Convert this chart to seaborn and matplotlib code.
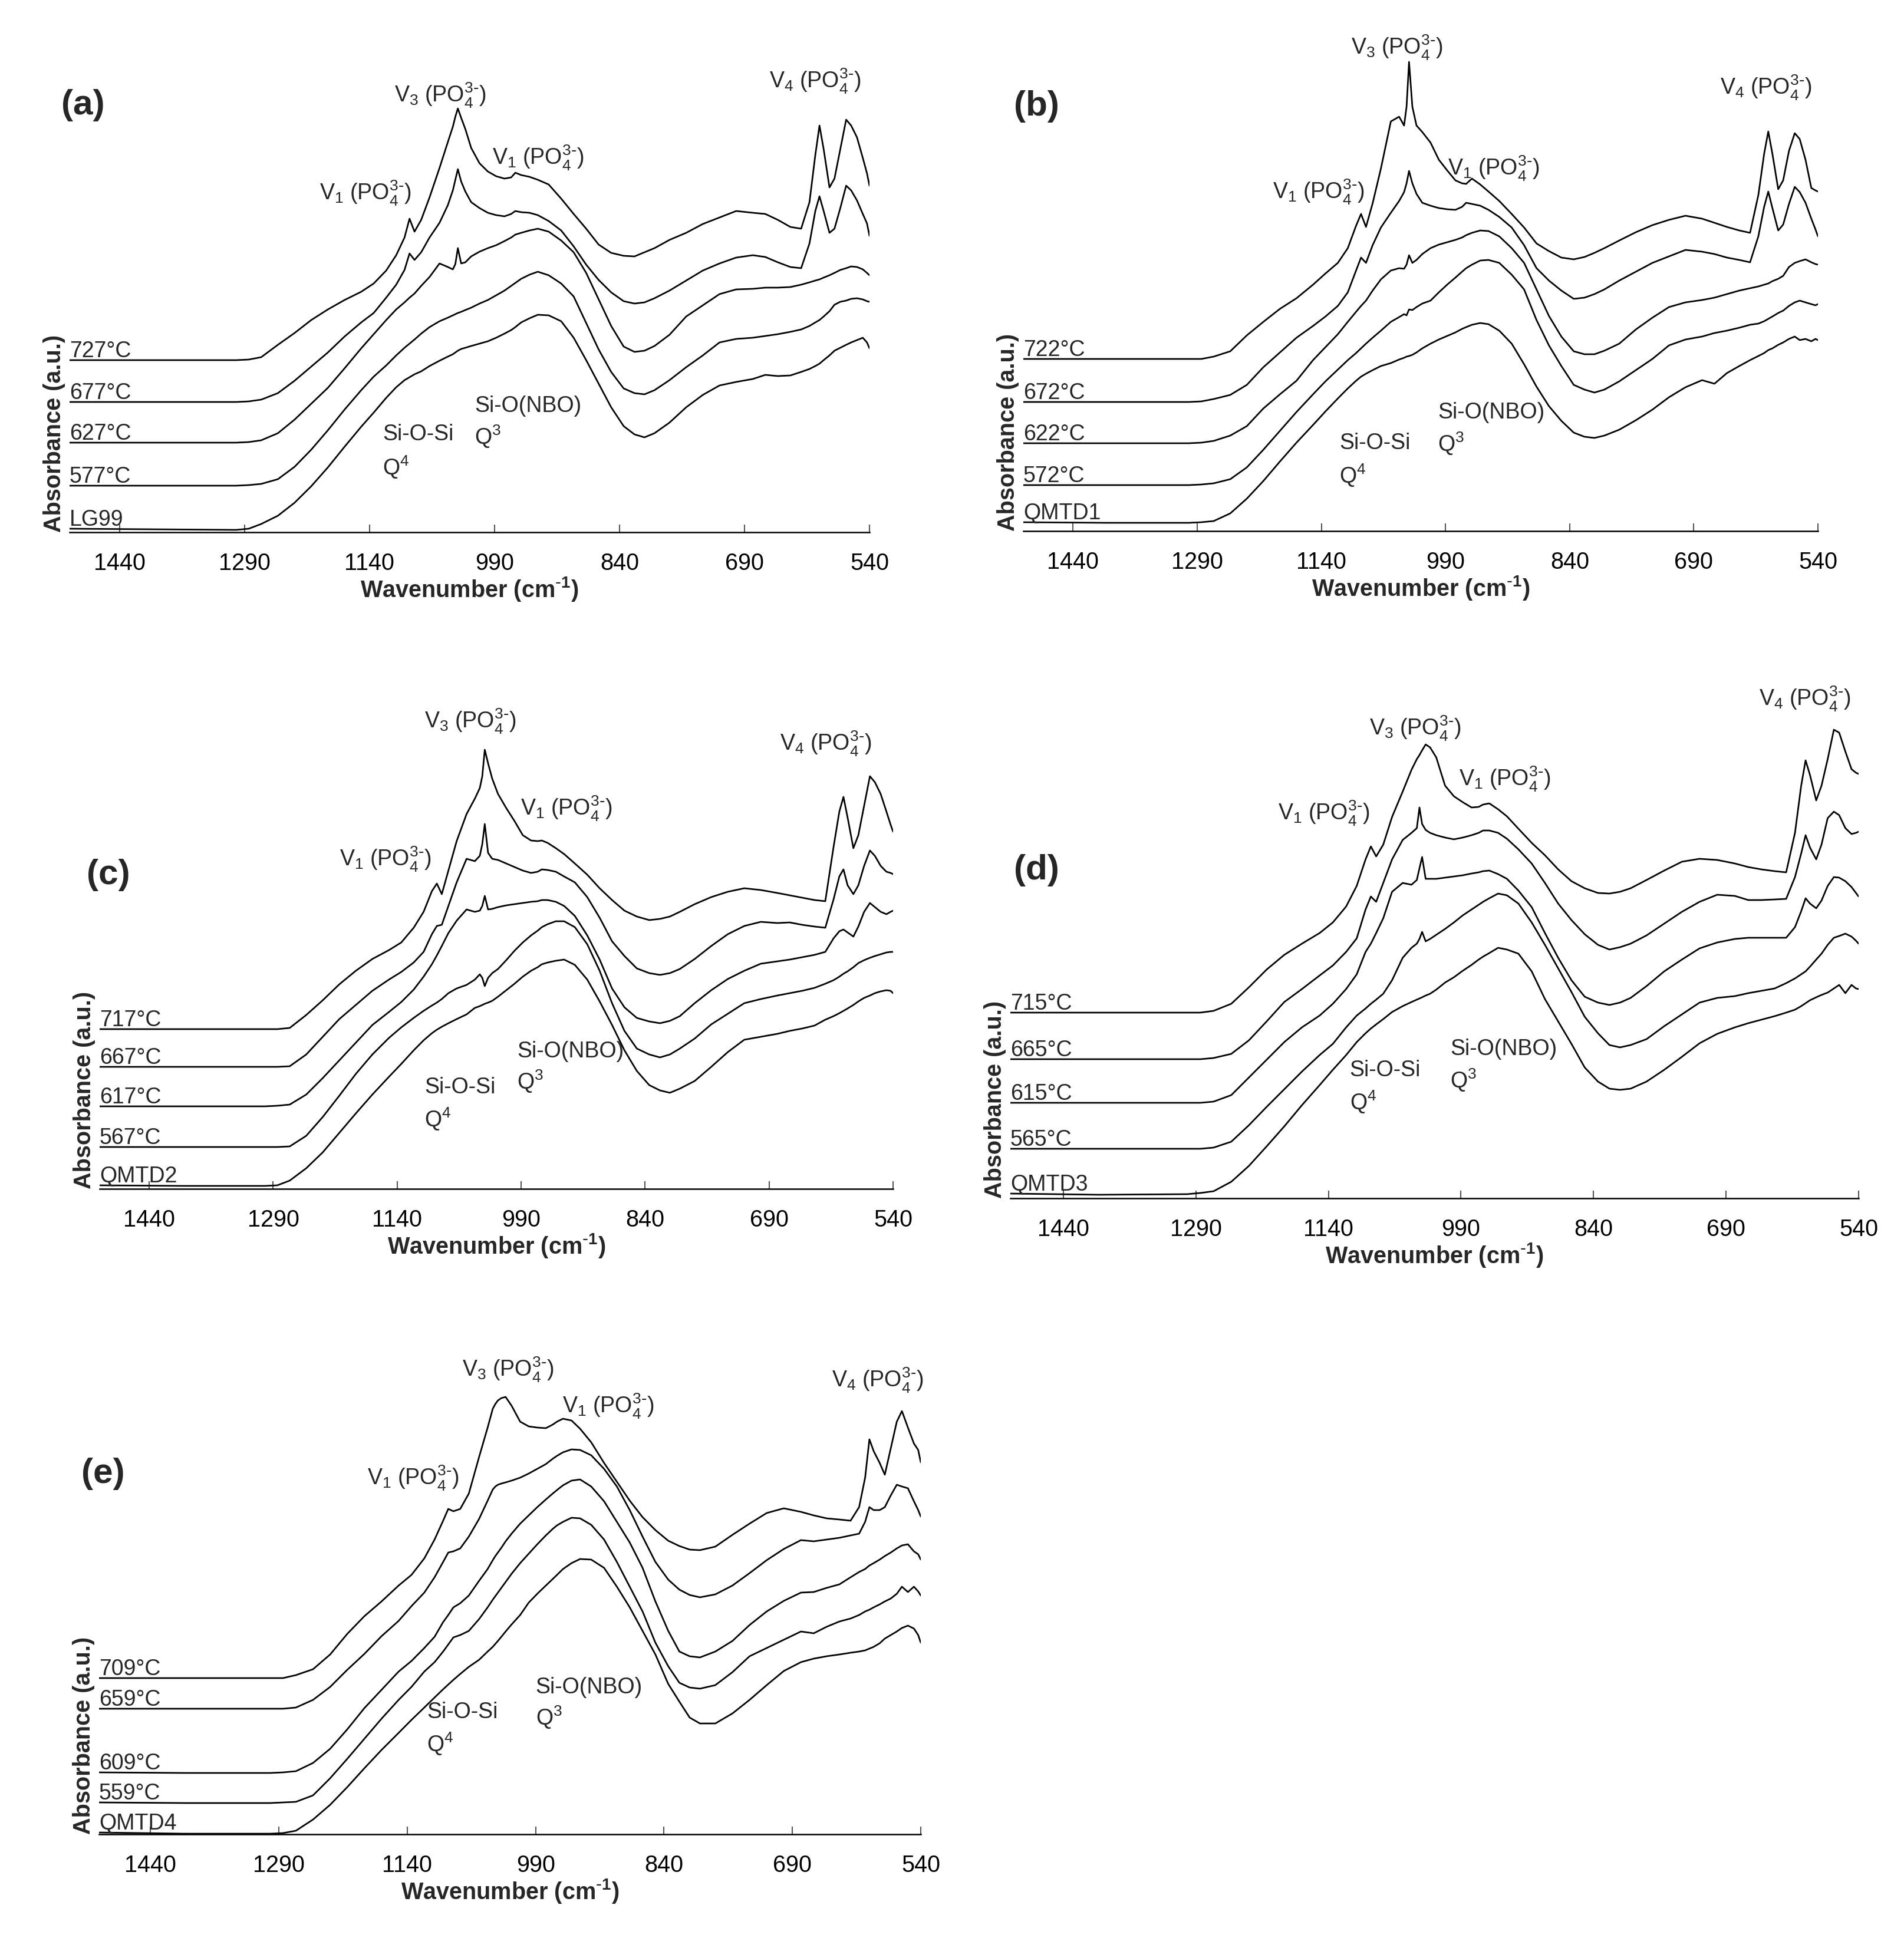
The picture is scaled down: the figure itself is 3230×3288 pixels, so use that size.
import matplotlib
matplotlib.use("Agg")
import matplotlib.pyplot as plt
import numpy as np
import pandas as pd
import seaborn as sns

# ---------------- data (absorbance, arbitrary units, offset spectra) ----------------
wavenumber = [1500, 1400, 1300, 1285, 1270, 1250, 1230, 1210, 1190, 1170,
              1150, 1135, 1120, 1108, 1098, 1092, 1086, 1078, 1068, 1056,
              1046, 1040, 1037, 1034, 1030, 1025, 1018, 1008, 998, 988,
              978, 970, 965, 958, 948, 938, 925, 910, 895, 880,
              865, 850, 835, 822, 810, 798, 780, 760, 740, 720,
              700, 680, 665, 650, 635, 622, 612, 605, 600, 595,
              588, 582, 575, 568, 562, 555, 548, 543, 540]
ticks = [1440, 1290, 1140, 990, 840, 690, 540]

# panel (a)
a_samples = ["727°C", "677°C", "627°C", "577°C", "LG99"]
a_727 = [292, 292, 292, 293, 297, 318, 338, 360, 378, 394,
         408, 422, 444, 470, 500, 532, 510, 530, 568, 618,
         662, 688, 705, 719, 703, 684, 652, 626, 612, 604,
         600, 602, 610, 606, 603, 598, 590, 566, 540, 515,
         488, 474, 469, 468, 475, 482, 496, 508, 523, 534,
         545, 542, 540, 530, 518, 515, 560, 640, 690, 650,
         585, 600, 650, 700, 690, 670, 635, 609, 588]
a_677 = [221, 221, 221, 222, 225, 236, 257, 281, 305, 332,
         356, 372, 398, 420, 445, 473, 462, 475, 500, 525,
         555, 580, 598, 616, 595, 578, 560, 550, 542, 538,
         536, 540, 545, 543, 542, 538, 528, 512, 485, 454,
         428, 407, 392, 388, 390, 397, 410, 427, 444, 456,
         466, 470, 467, 458, 450, 448, 490, 545, 570, 545,
         508, 515, 550, 588, 580, 563, 540, 524, 503]
a_627 = [152, 152, 152, 153, 156, 168, 191, 218, 245, 278,
         312, 336, 360, 378, 390, 398, 405, 418, 433, 456,
         450, 446, 455, 482, 456, 458, 468, 476, 482, 487,
         494, 500, 505, 508, 512, 515, 510, 495, 475, 440,
         395, 350, 315, 306, 308, 316, 335, 366, 385, 404,
         412, 413, 415, 415, 416, 420, 424, 427, 429, 432,
         436, 440, 445, 448, 451, 450, 446, 440, 436]
a_577 = [79, 79, 79, 80, 82, 90, 111, 140, 173, 208,
         241, 264, 283, 300, 313, 320, 327, 337, 348, 358,
         364, 368, 370, 372, 374, 377, 381, 388, 394, 402,
         410, 418, 423, 430, 437, 442, 436, 422, 400, 355,
         310, 272, 244, 236, 234, 241, 258, 280, 300, 322,
         328, 330, 333, 336, 340, 344, 350, 356, 360, 366,
         375, 386, 391, 393, 396, 397, 395, 392, 391]
a_lg99 = [6, 5, 4, 6, 14, 28, 50, 78, 110, 145,
          179, 203, 228, 246, 258, 263, 268, 273, 282, 291,
          298, 302, 305, 308, 311, 313, 316, 320, 324, 330,
          337, 343, 348, 356, 363, 369, 368, 358, 330, 292,
          252, 212, 180, 166, 161, 168, 186, 212, 233, 249,
          255, 260, 267, 265, 266, 272, 277, 282, 286, 292,
          300, 308, 313, 318, 322, 326, 330, 322, 312]

# panel (b)
b_samples = ["722°C", "672°C", "622°C", "572°C", "QMTD1"]
b_722 = [292, 292, 292, 292, 296, 305, 332, 355, 377, 395,
         418, 437, 455, 480, 518, 538, 516, 556, 615, 695,
         703, 688, 720, 796, 720, 688, 677, 659, 630, 612,
         595, 590, 589, 598, 588, 576, 560, 538, 515, 488,
         475, 464, 461, 465, 472, 480, 493, 507, 519, 528,
         535, 530, 523, 516, 510, 506, 570, 640, 678, 640,
         580, 595, 645, 675, 665, 630, 582, 578, 576]
b_672 = [219, 219, 219, 220, 224, 231, 248, 278, 303, 328,
         348, 364, 382, 405, 442, 464, 455, 485, 515, 540,
         560, 575, 590, 611, 590, 572, 557, 552, 548, 546,
         545, 550, 557, 555, 552, 545, 533, 515, 485, 446,
         425, 408, 394, 396, 402, 410, 425, 440, 455, 466,
         477, 474, 470, 464, 460, 456, 500, 550, 576, 548,
         510, 520, 555, 584, 575, 557, 530, 512, 500]
b_622 = [149, 149, 149, 150, 153, 162, 178, 208, 232, 255,
         290, 312, 334, 355, 372, 382, 391, 408, 427, 442,
         446, 445, 452, 468, 455, 460, 470, 480, 486, 490,
         494, 498, 502, 506, 510, 509, 500, 480, 455, 410,
         365, 330, 305, 300, 300, 306, 318, 342, 362, 380,
         388, 392, 396, 402, 408, 412, 415, 418, 420, 424,
         428, 433, 448, 455, 458, 461, 456, 453, 452]
b_572 = [78, 78, 78, 79, 81, 88, 108, 138, 170, 202,
         232, 254, 274, 290, 302, 310, 318, 328, 340, 355,
         363, 368, 366, 376, 375, 380, 386, 391, 405, 418,
         430, 440, 446, 452, 459, 460, 455, 435, 410, 358,
         315, 280, 248, 240, 235, 240, 254, 273, 292, 315,
         325, 330, 336, 340, 345, 350, 352, 356, 360, 364,
         370, 374, 382, 388, 391, 388, 385, 383, 385]
b_qmtd1 = [15, 14, 14, 15, 17, 30, 55, 85, 118, 150,
           180, 203, 225, 242, 255, 262, 267, 273, 280, 285,
           291, 294, 296, 297, 299, 303, 310, 318, 325, 331,
           337, 343, 346, 350, 353, 351, 340, 318, 283, 245,
           212, 187, 167, 160, 158, 162, 172, 188, 206, 227,
           244, 256, 250, 268, 280, 290, 297, 302, 307, 310,
           316, 320, 326, 330, 324, 326, 322, 326, 324]

# panel (c)
c_samples = ["717°C", "667°C", "617°C", "567°C", "QMTD2"]
c_717 = [271, 271, 271, 271, 273, 295, 320, 347, 370, 390,
         405, 418, 443, 470, 505, 518, 500, 540, 590, 636,
         662, 680, 700, 745, 722, 696, 670, 646, 624, 600,
         591, 590, 591, 587, 578, 568, 552, 533, 510, 490,
         472, 462, 456, 458, 462, 470, 483, 495, 504, 510,
         507, 502, 498, 494, 490, 488, 580, 640, 665, 630,
         578, 600, 650, 700, 690, 670, 640, 618, 606]
c_667 = [207, 207, 207, 207, 208, 228, 258, 288, 312, 336,
         355, 368, 384, 402, 432, 446, 448, 480, 520, 560,
         556, 565, 585, 619, 570, 560, 558, 552, 546, 540,
         536, 538, 542, 541, 538, 530, 520, 495, 460, 420,
         395, 374, 366, 363, 366, 373, 390, 412, 432, 446,
         453, 451, 452, 448, 445, 443, 491, 530, 542, 515,
         500, 515, 548, 574, 565, 548, 538, 536, 534]
c_617 = [140, 140, 140, 141, 143, 160, 188, 218, 248, 278,
         300, 317, 338, 360, 381, 396, 412, 434, 455, 474,
         470, 472, 480, 497, 474, 475, 478, 481, 483, 485,
         487, 488, 490, 490, 487, 480, 463, 430, 389, 340,
         308, 290, 284, 281, 285, 293, 315, 337, 356, 370,
         382, 386, 389, 393, 397, 402, 425, 437, 440, 435,
         428, 445, 470, 485, 478, 470, 466, 470, 472]
c_567 = [71, 71, 71, 71, 72, 90, 122, 158, 195, 228,
         256, 274, 290, 302, 311, 316, 322, 332, 340, 346,
         355, 364, 358, 344, 358, 366, 373, 388, 404, 418,
         430, 438, 444, 449, 454, 454, 444, 415, 370, 315,
         268, 238, 228, 223, 228, 238, 255, 279, 297, 315,
         322, 328, 332, 336, 341, 348, 354, 360, 365, 369,
         376, 383, 388, 392, 395, 398, 401, 402, 402]
c_qmtd2 = [6, 5, 5, 6, 14, 35, 62, 95, 128, 160,
           190, 212, 235, 252, 264, 270, 275, 281, 288, 296,
           307, 310, 312, 314, 316, 319, 326, 337, 348, 360,
           370, 376, 381, 384, 387, 389, 380, 355, 318, 278,
           235, 200, 176, 167, 163, 170, 183, 207, 232, 253,
           258, 263, 268, 272, 277, 287, 293, 298, 302, 306,
           312, 318, 324, 328, 332, 335, 337, 336, 332]

# panel (d)
d_samples = ["715°C", "665°C", "615°C", "565°C", "QMTD3"]
d_715 = [315, 315, 315, 315, 318, 330, 358, 388, 413, 432,
         450, 468, 495, 530, 575, 597, 580, 600, 647, 690,
         727, 745, 752, 760, 770, 765, 748, 700, 682, 672,
         663, 664, 668, 670, 660, 648, 627, 603, 582, 558,
         538, 526, 518, 517, 520, 526, 540, 556, 571, 576,
         574, 568, 562, 558, 555, 553, 620, 700, 743, 718,
         675, 700, 745, 795, 790, 758, 728, 722, 720]
d_665 = [236, 236, 236, 236, 238, 245, 268, 300, 333, 355,
         378, 395, 418, 441, 490, 512, 503, 535, 575, 608,
         620, 628, 663, 635, 625, 620, 616, 612, 609, 612,
         616, 620, 624, 624, 620, 610, 592, 568, 535, 500,
         472, 448, 430, 422, 426, 432, 446, 466, 486, 503,
         515, 513, 506, 506, 507, 508, 545, 585, 616, 595,
         575, 600, 645, 656, 650, 628, 618, 620, 622]
d_615 = [162, 162, 162, 162, 164, 175, 205, 235, 265, 290,
         310, 330, 355, 380, 418, 432, 450, 475, 520, 535,
         532, 540, 560, 579, 542, 542, 542, 544, 546, 548,
         551, 553, 555, 556, 550, 542, 522, 494, 450, 408,
         370, 342, 332, 328, 332, 340, 360, 385, 405, 424,
         434, 440, 442, 442, 442, 442, 460, 487, 509, 500,
         492, 505, 530, 545, 544, 538, 528, 518, 512]
d_565 = [84, 84, 84, 84, 86, 96, 124, 155, 185, 215,
         243, 262, 290, 310, 322, 330, 337, 347, 370, 408,
         425, 432, 440, 452, 436, 440, 447, 457, 468, 480,
         490, 498, 503, 509, 517, 514, 500, 468, 430, 390,
         350, 308, 280, 260, 256, 260, 270, 292, 312, 332,
         340, 343, 348, 352, 356, 365, 373, 380, 385, 393,
         405, 415, 430, 442, 445, 449, 444, 437, 432]
d_qmtd3 = [8, 6, 7, 9, 12, 28, 55, 88, 122, 158,
           192, 218, 243, 265, 280, 288, 295, 304, 316, 326,
           333, 337, 339, 341, 344, 347, 354, 366, 375, 386,
           396, 405, 410, 416, 425, 422, 415, 385, 338, 300,
           262, 222, 198, 186, 184, 186, 198, 218, 240, 263,
           279, 290, 297, 303, 309, 315, 320, 326, 331, 336,
           341, 345, 349, 356, 362, 348, 362, 356, 355]

# panel (e)
e_samples = ["709°C", "659°C", "609°C", "559°C", "QMTD4"]
e_709 = [265, 265, 265, 265, 270, 280, 305, 340, 370, 395,
         422, 440, 468, 500, 532, 552, 548, 552, 578, 640,
         690, 722, 730, 736, 740, 742, 727, 700, 692, 690,
         689, 695, 700, 705, 702, 688, 665, 630, 598, 566,
         538, 516, 498, 489, 483, 482, 488, 508, 527, 545,
         553, 547, 541, 536, 534, 532, 555, 605, 670, 650,
         630, 610, 655, 700, 718, 690, 663, 652, 631]
e_659 = [213, 213, 213, 213, 215, 228, 250, 279, 306, 336,
         362, 387, 410, 436, 462, 478, 480, 485, 505, 535,
         566, 585, 590, 593, 595, 597, 600, 605, 612, 620,
         628, 637, 642, 648, 653, 652, 643, 620, 590, 550,
         505, 462, 432, 415, 406, 402, 407, 422, 443, 465,
         484, 499, 497, 500, 503, 507, 510, 530, 555, 550,
         550, 555, 575, 593, 590, 587, 565, 550, 539]
e_609 = [105, 104, 104, 105, 107, 121, 145, 178, 214, 245,
         276, 294, 316, 335, 360, 372, 385, 392, 405, 430,
         450, 465, 472, 478, 486, 497, 510, 527, 541, 555,
         568, 578, 584, 592, 600, 602, 590, 565, 530, 495,
         452, 395, 345, 310, 302, 300, 310, 328, 355, 378,
         396, 410, 411, 418, 424, 436, 445, 450, 456, 460,
         466, 472, 478, 485, 490, 492, 480, 475, 466]
e_559 = [54, 53, 53, 54, 55, 66, 95, 128, 162, 196,
         228, 250, 276, 292, 310, 322, 334, 338, 345, 365,
         385, 398, 404, 410, 418, 428, 442, 460, 476, 492,
         507, 518, 524, 530, 537, 536, 525, 500, 462, 420,
         378, 325, 285, 257, 249, 247, 253, 275, 302, 316,
         330, 344, 341, 352, 361, 366, 372, 378, 381, 385,
         390, 395, 400, 408, 420, 411, 420, 412, 405]
e_qmtd4 = [3, 1, 1, 2, 6, 25, 50, 80, 112, 143,
           172, 194, 215, 232, 246, 254, 262, 272, 284, 296,
           310, 318, 323, 328, 335, 344, 356, 372, 393, 408,
           422, 433, 440, 450, 460, 467, 466, 452, 420, 385,
           345, 305, 255, 225, 198, 188, 188, 205, 228, 253,
           277, 292, 298, 302, 305, 308, 310, 312, 315, 318,
           324, 332, 338, 344, 350, 354, 349, 338, 325]

# ---------------- style ----------------
sns.set_style("white")
plt.rcParams["font.family"] = ["Liberation Sans", "DejaVu Sans"]
plt.rcParams["mathtext.default"] = "regular"

W, H, DPI = 3230, 3288, 300
fig = plt.figure(figsize=(W / DPI, H / DPI), dpi=DPI)
fig.patch.set_facecolor("white")

V1 = r"V$_1$ (PO$_4^{3\text{-}}$)"
V3 = r"V$_3$ (PO$_4^{3\text{-}}$)"
V4 = r"V$_4$ (PO$_4^{3\text{-}}$)"
NBO, Q3, SIOSI, Q4 = "Si-O(NBO)", "Q$^3$", "Si-O-Si", "Q$^4$"

panels = [
    dict(tag="(a)", samples=a_samples, curves=[a_727, a_677, a_627, a_577, a_lg99],
         box=(118, 1475, 903), tag_xy=(104, 178),
         notes=[(V3, 1110, 730), (V1, 993, 624), (V1, 1200, 564), (V4, 660, 753),
                (NBO, 1014, 204), (Q3, 1014, 149), (SIOSI, 1124, 156), (Q4, 1124, 97)]),
    dict(tag="(b)", samples=b_samples, curves=[b_722, b_672, b_622, b_572, b_qmtd1],
         box=(1736, 3084, 901), tag_xy=(1720, 180),
         notes=[(V3, 1104, 808), (V1, 1199, 563), (V1, 987, 603), (V4, 658, 740),
                (NBO, 999, 191), (Q3, 999, 135), (SIOSI, 1118, 139), (Q4, 1118, 81)]),
    dict(tag="(c)", samples=c_samples, curves=[c_717, c_667, c_617, c_567, c_qmtd2],
         box=(169, 1515, 2017), tag_xy=(147, 1484),
         notes=[(V3, 1107, 781), (V1, 1210, 548), (V1, 991, 634), (V4, 677, 743),
                (NBO, 995, 223), (Q3, 995, 169), (SIOSI, 1107, 162), (Q4, 1107, 105)]),
    dict(tag="(d)", samples=d_samples, curves=[d_715, d_665, d_615, d_565, d_qmtd3],
         box=(1714, 3153, 2033), tag_xy=(1720, 1477),
         notes=[(V3, 1094, 786), (V1, 1197, 642), (V1, 992, 699), (V4, 653, 835),
                (NBO, 1002, 243), (Q3, 1002, 187), (SIOSI, 1116, 207), (Q4, 1116, 150)]),
    dict(tag="(e)", samples=e_samples, curves=[e_709, e_659, e_609, e_559, e_qmtd4],
         box=(168, 1562, 3112), tag_xy=(138, 2500),
         notes=[(V3, 1076, 776), (V1, 1187, 593), (V1, 959, 714), (V4, 644, 759),
                (NBO, 990, 239), (Q3, 990, 185), (SIOSI, 1117, 197), (Q4, 1117, 140)]),
]

for p in panels:
    for name, c in zip(p["samples"], p["curves"]):
        if len(c) != len(wavenumber):
            raise ValueError(f"{p['tag']} {name}: {len(c)} values")

    L, R, B = p["box"]
    ax = fig.add_axes([L / W, 1 - B / H, (R - L) / W, 800 / H])
    df = pd.DataFrame({
        "Wavenumber": np.tile(wavenumber, len(p["curves"])),
        "Absorbance": np.concatenate([np.asarray(c, float) for c in p["curves"]]),
        "Sample": np.repeat(p["samples"], len(wavenumber)),
    })
    sns.lineplot(data=df, x="Wavenumber", y="Absorbance", hue="Sample",
                 hue_order=p["samples"], palette=["black"] * len(p["samples"]),
                 estimator=None, sort=False, legend=False, linewidth=0.65, ax=ax)
    ax.set_xlim(1500, 540)
    ax.set_ylim(0, 800)
    ax.set_xticks(ticks)
    ax.set_xticklabels([str(t) for t in ticks])
    ax.set_yticks([])
    ax.set_xlabel("")
    ax.set_ylabel("")
    ax.set_facecolor("none")
    for s in ("top", "left", "right"):
        ax.spines[s].set_visible(False)
    ax.spines["bottom"].set_linewidth(0.6)
    ax.spines["bottom"].set_color("black")
    ax.tick_params(axis="x", direction="in", length=3.2, width=0.5, color="#555555",
                   pad=8.2, labelsize=9.5, labelcolor="black", bottom=True)

    # sample labels sitting on each spectrum's flat baseline
    for name, c in zip(p["samples"], p["curves"]):
        ax.text(1500, c[0] + 5, name, ha="left", va="baseline", fontsize=9)

    # band assignments
    for txt, x, y in p["notes"]:
        ax.text(x, y, txt, ha="left", va="baseline", fontsize=9)

    # axis titles and panel tag
    fig.text((L - 26) / W, 1 - B / H, "Absorbance (a.u.)", rotation=90,
             ha="center", va="bottom", fontsize=9.5, fontweight="bold")
    fig.text(((L + R) / 2) / W, 1 - (B + 110) / H, r"Wavenumber (cm$^{\text{-}1}$)",
             ha="center", va="baseline", fontsize=9.5, fontweight="bold")
    tx, ty = p["tag_xy"]
    fig.text(tx / W, 1 - ty / H, p["tag"], ha="left", va="center",
             fontsize=14.5, fontweight="bold")

fig.savefig("out.png", dpi=DPI, facecolor="white")
